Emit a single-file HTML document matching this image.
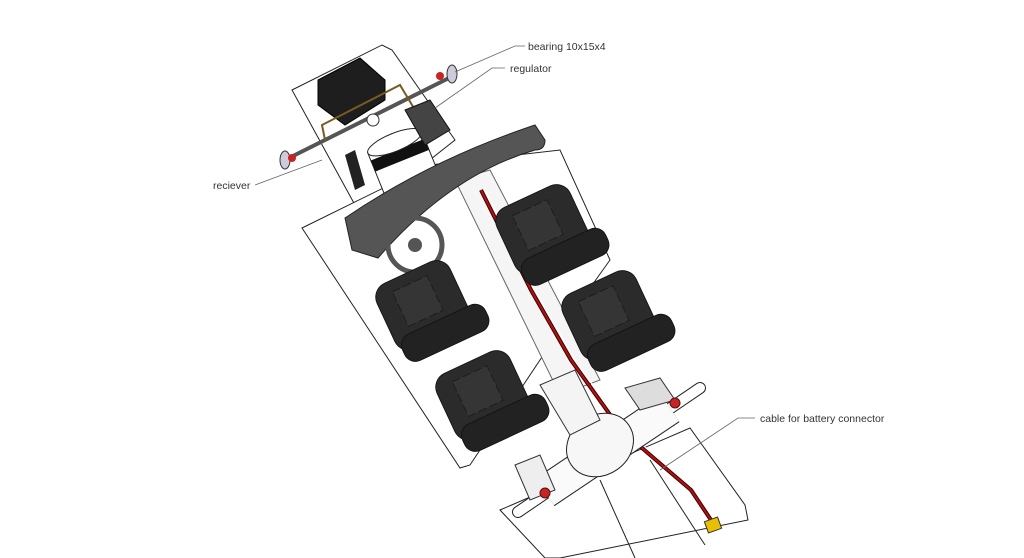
<!DOCTYPE html>
<html><head><meta charset="utf-8"><style>
html,body{margin:0;padding:0;background:#fff}
svg{display:block}
text{font-family:"Liberation Sans",sans-serif;font-size:10.5px;fill:#333}
</style></head><body>
<svg width="1024" height="558" viewBox="0 0 1024 558" xmlns="http://www.w3.org/2000/svg">
<defs>
<g id="seat">
<rect x="-52" y="-48" width="95" height="85" rx="18" fill="#2b2b2b" stroke="#111"/>
<rect x="-30" y="-35" width="45" height="45" fill="#353535" stroke="#1a1a1a" stroke-dasharray="10,4"/>
<rect x="-48" y="18" width="108" height="34" rx="14" fill="#222" stroke="#111"/>
</g>
</defs>
<g stroke="#222" stroke-width="1" fill="#fff">
<polygon points="292,90 382,45 392,50 455,140 360,215 355,205"/>
<polygon points="302,228 430,165 560,150 610,260 560,330 470,465 460,468"/>
<polygon points="500,510 690,428 745,505 748,520 560,558 545,558"/>
<line x1="600" y1="480" x2="635" y2="558"/>
<line x1="650" y1="460" x2="705" y2="545"/>
</g>
<polygon points="455,180 490,170 600,380 560,395" fill="#f5f5f5" stroke="#666"/>
<g transform="rotate(-22 405 165)">
<rect x="375" y="140" width="58" height="55" fill="#fff" stroke="#222"/>
<rect x="375" y="148" width="58" height="12" fill="#111"/>
<ellipse cx="404" cy="140" rx="29" ry="9" fill="#fff" stroke="#222"/>
</g>
<polyline points="481,190 531,290 571,360 621,430 691,490 713,523" fill="none" stroke="#111" stroke-width="4"/>
<polyline points="481,190 531,290 571,360 621,430 691,490 713,523" fill="none" stroke="#d00" stroke-width="2"/>
<polyline points="485,190 535,290 575,360 625,430 695,490 717,521" fill="none" stroke="#fff" stroke-width="1"/>
<line x1="285" y1="160" x2="455" y2="75" stroke="#555" stroke-width="4"/>
<ellipse cx="285" cy="160" rx="5" ry="9" fill="#ccd" stroke="#333"/>
<ellipse cx="452" cy="74" rx="5" ry="9" fill="#ccd" stroke="#333"/>
<circle cx="292" cy="158" r="4" fill="#c22"/>
<circle cx="440" cy="76" r="4" fill="#c22"/>
<circle cx="373" cy="120" r="6" fill="#fff" stroke="#333"/>
<polygon points="318,80 360,58 385,80 385,100 345,125 318,105" fill="#1e1e1e" stroke="#000"/>
<polyline points="325,140 322,125 400,85 415,110" fill="none" stroke="#7a5a20" stroke-width="2"/>
<polygon points="405,110 430,100 450,130 425,145" fill="#444" stroke="#111"/>
<polygon points="345,155 355,150 365,185 355,190" fill="#222"/>
<path d="M345,218 Q430,160 535,125 L545,140 Q545,150 535,150 Q450,175 378,258 L352,250 Z" fill="#555" stroke="#222"/>
<circle cx="415" cy="245" r="27" fill="none" stroke="#555" stroke-width="5"/>
<circle cx="415" cy="245" r="7" fill="#555"/>
<use href="#seat" transform="translate(428,308) rotate(-25) scale(0.85)"/>
<use href="#seat" transform="translate(488,398) rotate(-25) scale(0.85)"/>
<use href="#seat" transform="translate(548,232) rotate(-25) scale(0.85)"/>
<use href="#seat" transform="translate(614,318) rotate(-25) scale(0.85)"/>
<line x1="518" y1="512" x2="700" y2="388" stroke="#222" stroke-width="12" stroke-linecap="round"/>
<line x1="518" y1="512" x2="700" y2="388" stroke="#fff" stroke-width="10" stroke-linecap="round"/>
<line x1="545" y1="492" x2="670" y2="408" stroke="#222" stroke-width="34"/>
<line x1="545" y1="492" x2="670" y2="408" stroke="#fafafa" stroke-width="32"/>
<ellipse cx="600" cy="445" rx="35" ry="30" fill="#f7f7f7" stroke="#222" transform="rotate(-35 600 445)"/>
<polygon points="540,385 575,370 600,420 570,435" fill="#f4f4f4" stroke="#333"/>
<polygon points="515,465 540,455 555,490 530,500" fill="#eee" stroke="#333"/>
<polygon points="625,388 660,378 675,400 640,410" fill="#ddd" stroke="#333"/>
<circle cx="545" cy="493" r="5" fill="#c22" stroke="#511"/>
<circle cx="675" cy="403" r="5" fill="#c22" stroke="#511"/>
<rect x="706" y="519" width="14" height="12" fill="#e8c000" stroke="#333" transform="rotate(-20 713 525)"/>
<g stroke="#666" fill="none" stroke-width="0.8">
<polyline points="455,72 515,46 525,46"/>
<polyline points="435,108 492,68 505,68"/>
<polyline points="255,185 322,160"/>
<polyline points="660,470 738,418 755,418"/>
</g>
<text x="528" y="50">bearing 10x15x4</text>
<text x="510" y="72">regulator</text>
<text x="213" y="189">reciever</text>
<text x="760" y="422">cable for battery connector</text>
</svg>
</body></html>
